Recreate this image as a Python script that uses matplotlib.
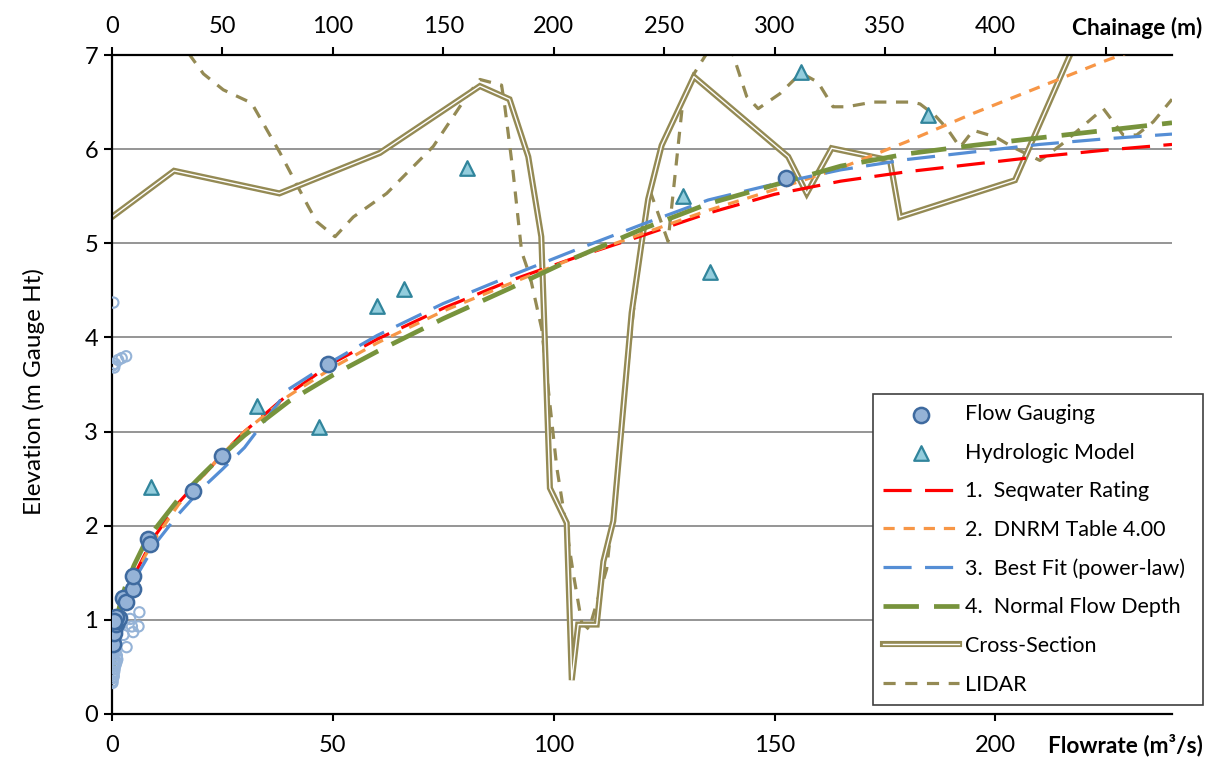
import numpy as np
import matplotlib.pyplot as plt

plt.rcParams['font.family'] = 'Lato'
plt.rcParams['font.size'] = 17

# ---- data ----
# flow gaugings (m3/s, m gauge height)
gauge_q = [0.0, 0.1, 0.2, 0.2, 0.4, 0.5, 0.8, 1.2, 1.5, 0.9, 0.4, 2.4, 3.2, 4.7, 4.8,
           8.2, 8.6, 18.4, 24.8, 48.9, 152.6]
gauge_h = [0.78, 0.82, 0.74, 0.90, 0.93, 0.86, 0.96, 0.99, 1.02, 1.03, 0.99, 1.23, 1.19,
           1.33, 1.47, 1.86, 1.81, 2.37, 2.74, 3.72, 5.69]

# older gaugings (open circles)
old_q = [0.3, 0.15, 0.5, 0.7, 1.4, 2.2, 3.2,
         6.2, 6.0, 4.5, 4.8, 4.1, 3.3, 2.6, 1.8,
         0.1, 0.2, 0.3, 0.5, 0.6, 0.8, 1.0, 1.2, 0.1, 0.3, 0.4, 0.7, 0.9, 1.1, 0.2,
         0.4, 0.6, 0.8, 0.2, 0.5, 0.1, 0.3]
old_h = [4.37, 3.70, 3.68, 3.72, 3.76, 3.78, 3.80,
         1.08, 0.93, 0.93, 0.87, 1.01, 0.71, 0.84, 0.93,
         0.35, 0.38, 0.42, 0.45, 0.48, 0.52, 0.55, 0.58, 0.62, 0.65, 0.68, 0.72, 0.75, 0.62,
         0.50, 0.40, 0.55, 0.66, 0.44, 0.58, 0.33, 0.70]

# hydrologic model results
model_q = [8.8, 32.8, 46.9, 60.0, 66.1, 80.3, 129.3, 135.4, 156.1, 184.7]
model_h = [2.41, 3.27, 3.05, 4.33, 4.51, 5.80, 5.50, 4.69, 6.82, 6.36]

# rating curves
rating_q = [0.3, 1, 2, 3, 5, 7.5, 10, 15, 20, 25, 30, 40, 50, 60, 75, 90, 105, 120,
            135, 150, 165, 180, 195, 210, 225, 240]
seqwater_h = [0.60, 0.95, 1.10, 1.25, 1.47, 1.70, 1.91, 2.24, 2.50, 2.76, 3.00, 3.40,
              3.73, 3.98, 4.31, 4.60, 4.85, 5.08, 5.32, 5.52, 5.66, 5.76, 5.84, 5.92,
              5.99, 6.05]
dnrm_h = [0.60, 0.95, 1.10, 1.22, 1.45, 1.68, 1.88, 2.22, 2.50, 2.76, 3.00, 3.38, 3.68,
          3.94, 4.28, 4.57, 4.85, 5.10, 5.35, 5.57, 5.80, 6.08, 6.38, 6.66, 6.94, 7.20]
bestfit_h = [0.55, 0.90, 1.08, 1.20, 1.42, 1.62, 1.82, 2.12, 2.38, 2.60, 2.83, 3.45,
             3.75, 4.02, 4.36, 4.65, 4.93, 5.20, 5.46, 5.63, 5.78, 5.89, 5.97, 6.05,
             6.11, 6.16]
normal_h = [0.45, 1.00, 1.20, 1.35, 1.58, 1.82, 1.98, 2.28, 2.52, 2.75, 2.96, 3.32, 3.60,
            3.85, 4.20, 4.52, 4.85, 5.15, 5.42, 5.62, 5.82, 5.95, 6.04, 6.12, 6.20, 6.28]

# surveyed cross-section (chainage m, elevation m)
xs_ch = [0, 28.1, 75.8, 121.3, 166.6, 180.0, 188.5, 194.4, 198.3, 205.9, 208.2, 211.1,
         219.5, 222.5, 227.0, 235.3, 239.8, 242.8, 248.9, 263.5, 306.2, 314.6, 325.9,
         352.3, 356.8, 408.9, 440.0]
xs_h = [5.28, 5.77, 5.53, 5.96, 6.67, 6.53, 5.92, 5.07, 2.40, 2.03, 0.36, 0.95, 0.95,
        1.62, 2.05, 4.26, 5.00, 5.47, 6.04, 6.77, 5.92, 5.53, 6.01, 5.88, 5.28, 5.67, 7.33]

# LIDAR profile
lidar_ch = [34.6, 41.4, 50.4, 63.2, 76.1, 88.9, 92.7, 101.0, 109.3, 124.4, 145.5, 160.6,
            166.6, 176.4, 177.9, 181.7, 185.5, 189.3, 194.6, 201.4, 204.4, 208.9, 212.7,
            216.0, 224.0, 227.0, 236.0, 240.0, 243.6, 251.8, 258.5, 263.5, 269.4, 275.0,
            281.0, 287.4, 292.6, 302.5, 312.0, 319.7, 326.5, 332.8, 344.6, 362.2, 365.9,
            372.6, 378.1, 384.0, 390.0, 400.0, 408.0, 420.2, 430.0, 448.9, 457.9, 464.0,
            471.5, 480.0]
lidar_h = [7.02, 6.80, 6.63, 6.49, 5.96, 5.39, 5.23, 5.07, 5.28, 5.53, 6.03, 6.56,
           6.74, 6.68, 6.45, 5.74, 4.91, 4.65, 4.09, 2.62, 2.18, 1.49, 0.97,
           0.90, 1.54, 2.18, 4.26, 5.00, 5.56, 5.02, 6.51, 6.80, 7.02, 7.20,
           7.02, 6.56, 6.43, 6.59, 6.81, 6.71, 6.45, 6.45, 6.50, 6.50, 6.48,
           6.36, 6.22, 6.02, 6.20, 6.13, 6.02, 5.88, 6.05, 6.43, 6.15, 6.15,
           6.29, 6.53]

chain_ticks = [0, 50, 100, 150, 200, 250, 300, 350, 400, 450]
chain_labels = ['0', '50', '100', '150', '200', '250', '300', '350', '400', '']
flow_ticks = [0, 50, 100, 150, 200]
elev_ticks = [0, 1, 2, 3, 4, 5, 6, 7]

olive = '#948A54'

fig = plt.figure(figsize=(12.15, 7.62), dpi=100)
axc = fig.add_axes([112 / 1215, 1 - 714 / 762, 1060 / 1215, 659 / 762])
axf = axc.twiny()

# chainage axes (host, top axis)
axc.set_xlim(0, 480)
axc.set_ylim(0, 7)
axc.xaxis.tick_top()
axc.set_xticks(chain_ticks)
axc.set_xticklabels(chain_labels)
axc.set_yticks(elev_ticks)
axc.grid(axis='y', color='#8C8C8C', lw=1.3)
axc.set_axisbelow(True)
axc.tick_params(axis='x', direction='out', length=6, width=1.5, pad=7)
axc.tick_params(axis='y', direction='out', length=6, width=1.5, pad=4)
for s in ['left', 'top', 'bottom']:
    axc.spines[s].set_linewidth(1.6)
axc.spines['right'].set_visible(False)
axc.set_ylabel('Elevation (m Gauge Ht)', fontsize=17.5)
axc.yaxis.set_label_coords(-0.063, 0.49)

xs_out, = axc.plot(xs_ch, xs_h, color=olive, lw=4.4, solid_joinstyle='miter', zorder=2)
xs_in, = axc.plot(xs_ch, xs_h, color='white', lw=1.0, zorder=2.1)
lidar, = axc.plot(lidar_ch, lidar_h, color=olive, lw=2.3, dashes=(3.8, 3.0), zorder=2)

# flow axes (twin, bottom axis)
axf.set_xlim(0, 240)
axf.xaxis.tick_bottom()
axf.set_xticks(flow_ticks)
axf.tick_params(axis='x', direction='out', length=5, width=1.5, pad=10)
for s in axf.spines.values():
    s.set_visible(False)

r1, = axf.plot(rating_q, seqwater_h, color='#FF0000', lw=2.3, dashes=(8.8, 4.2),
               label='1.  Seqwater Rating', zorder=3)
r2, = axf.plot(rating_q, dnrm_h, color='#F79646', lw=2.3, dashes=(3.5, 2.8),
               label='2.  DNRM Table 4.00', zorder=3)
r3, = axf.plot(rating_q, bestfit_h, color='#558ED5', lw=2.3, dashes=(8.8, 4.2),
               label='3.  Best Fit (power-law)', zorder=3)
r4, = axf.plot(rating_q, normal_h, color='#77933C', lw=3.4, dashes=(7.5, 3.2),
               label='4.  Normal Flow Depth', zorder=3)

axf.scatter(old_q, old_h, s=55, facecolor='none', edgecolor='#95B3D7', lw=1.5, zorder=4)
gauge = axf.scatter(gauge_q, gauge_h, s=120, facecolor='#95B3D7', edgecolor='#3E6A9F',
                    lw=1.8, zorder=5, label='Flow Gauging')
model = axf.scatter(model_q, model_h, s=110, marker='^', facecolor='#93CDDD',
                    edgecolor='#31859C', lw=1.6, zorder=5, label='Hydrologic Model')

fig.text(1202 / 1215, 1 - 28 / 762, 'Chainage (m)', ha='right', va='center',
         fontsize=16.3, fontweight='bold')
fig.text(1203 / 1215, 1 - 745 / 762, 'Flowrate (m³/s)', ha='right', va='center',
         fontsize=16.3, fontweight='bold')

handles = [gauge, model, r1, r2, r3, r4, (xs_out, xs_in), lidar]
labels = ['Flow Gauging', 'Hydrologic Model', '1.  Seqwater Rating', '2.  DNRM Table 4.00',
          '3.  Best Fit (power-law)', '4.  Normal Flow Depth', 'Cross-Section', 'LIDAR']
leg = axf.legend(handles, labels, loc='upper left',
                 bbox_to_anchor=(873 / 1215, 1 - 703 / 762, 330 / 1215, 309 / 762),
                 bbox_transform=fig.transFigure, mode='expand', borderaxespad=0,
                 fancybox=False, framealpha=1, edgecolor='#404040', fontsize=15.5,
                 handlelength=3.5, handletextpad=0.3, labelspacing=0.86,
                 borderpad=0.48, scatterpoints=1)
leg.get_frame().set_linewidth(1.2)
leg.set_zorder(10)

fig.savefig('out.png', dpi=100)
